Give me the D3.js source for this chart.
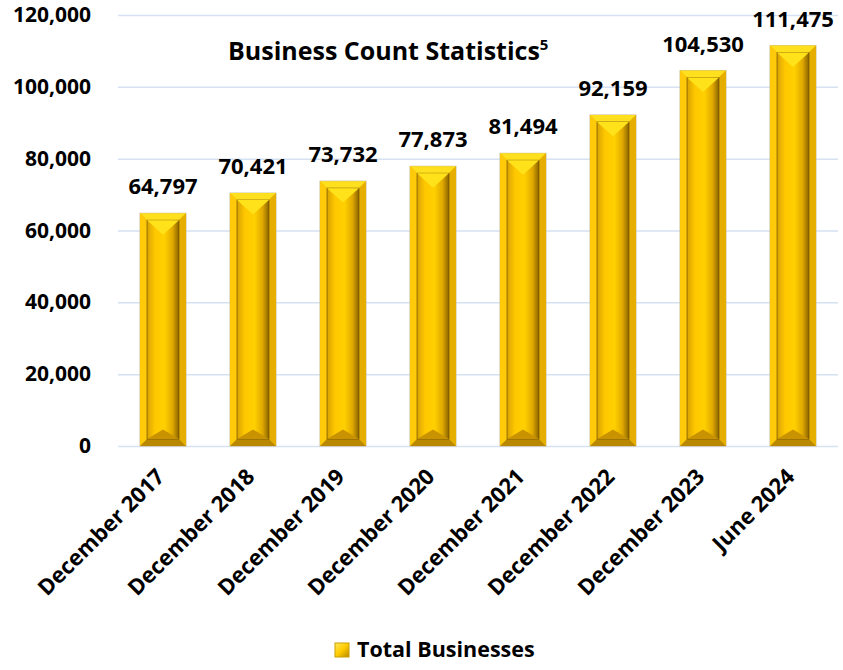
<!DOCTYPE html>
<html><head><meta charset="utf-8">
<script src="https://cdn.jsdelivr.net/npm/d3@7/dist/d3.min.js"></script>
<style>body{margin:0;background:#fff}svg{display:block}text{font-family:"Open Sans",sans-serif;font-weight:bold;fill:#000}</style>
</head><body><svg id="c" width="843" height="670"></svg>
<script>
const categories=["December 2017","December 2018","December 2019","December 2020","December 2021","December 2022","December 2023","June 2024"];
const values=[64797,70421,73732,77873,81494,92159,104530,111475];
const yTicks=[0,20000,40000,60000,80000,100000,120000];
const seriesName="Total Businesses";
const title="Business Count Statistics";

const svg=d3.select("#c");
const pL=118,pR=838,pT=15,pB=446;
const x=d3.scaleBand().domain(categories).range([pL,pR]).paddingInner(0.49).paddingOuter(0.245);
const y=d3.scaleLinear().domain([0,120000]).range([pB,pT]);
const fmt=d3.format(",");

const defs=svg.append("defs");
const g1=defs.append("linearGradient").attr("id","face").attr("x1",0).attr("x2",1).attr("y1",0).attr("y2",0);
[[0,"#D9A200"],[0.25,"#FFC800"],[0.55,"#FFD000"],[0.8,"#E0A800"],[1,"#8A6400"]].forEach(s=>g1.append("stop").attr("offset",s[0]).attr("stop-color",s[1]));
const g2=defs.append("linearGradient").attr("id","leg").attr("x1",0).attr("x2",1).attr("y1",0).attr("y2",1);
[[0,"#FFE860"],[0.5,"#FFCC00"],[1,"#B88A00"]].forEach(s=>g2.append("stop").attr("offset",s[0]).attr("stop-color",s[1]));

svg.append("g").selectAll("line").data(yTicks).join("line")
 .attr("x1",pL).attr("x2",pR).attr("y1",d=>y(d)+0.5).attr("y2",d=>y(d)+0.5)
 .attr("stroke","#D6E1F2").attr("stroke-width",1.5);

svg.append("g").selectAll("text").data(yTicks).join("text")
 .attr("x",91).attr("y",d=>y(d)+7).attr("text-anchor","end")
 .style("font-size","21px").text(d=>fmt(d));

const bars=svg.append("g").selectAll("g").data(values).join("g");
bars.each(function(v,i){
  const g=d3.select(this);
  const x0=x(categories[i]),w=x.bandwidth(),y0=y(v),h=pB-y0,b=7;
  const x1=x0+w,y1=y0+h;
  g.append("rect").attr("x",x0).attr("y",y0).attr("width",w).attr("height",h).attr("fill","#F2BC00").attr("stroke","#C9B98A").attr("stroke-width",1);
  const poly=(pts,fill)=>g.append("polygon").attr("points",pts.map(p=>p.join(",")).join(" ")).attr("fill",fill);
  poly([[x0,y0],[x1,y0],[x1-b,y0+b],[x0+b,y0+b]],"#FFE01E");
  poly([[x0,y0],[x0+b,y0+b],[x0+b,y1-b],[x0,y1]],"#FFCA0A");
  poly([[x1,y0],[x1,y1],[x1-b,y1-b],[x1-b,y0+b]],"#E6AE00");
  poly([[x0,y1],[x1,y1],[x1-b,y1-b],[x0+b,y1-b]],"#B98800");
  const ix0=x0+b,ix1=x1-b,iy0=y0+b,iy1=y1-b,iw=ix1-ix0;
  g.append("rect").attr("x",ix0).attr("y",iy0).attr("width",iw).attr("height",iy1-iy0).attr("fill","url(#face)");
  g.append("rect").attr("x",ix0).attr("y",iy0).attr("width",iw).attr("height",iy1-iy0).attr("fill","none").attr("stroke","#6E5000").attr("stroke-width",1).attr("stroke-opacity",0.7);
  poly([[ix0,iy0],[ix1,iy0],[(ix0+ix1)/2,iy0+iw*0.45]],"#FFE21A");
  poly([[ix0,iy1],[ix1,iy1],[(ix0+ix1)/2,iy1-iw*0.3]],"#C89200");
  g.append("text").attr("x",x0+w/2).attr("y",y0-19).attr("text-anchor","middle").style("font-size","22px").text(fmt(v));
});

svg.append("g").selectAll("text").data(categories).join("text")
 .attr("transform",d=>`translate(${x(d)+x.bandwidth()/2+3},${pB+32}) rotate(-45)`)
 .attr("text-anchor","end").style("font-size","22px").text(d=>d);

const t=svg.append("text").attr("x",228).attr("y",60).style("font-size","25px");
t.append("tspan").text(title);
t.append("tspan").attr("dy",-10).style("font-size","15px").text("5");

svg.append("rect").attr("x",335).attr("y",643).attr("width",14).attr("height",14).attr("fill","url(#leg)").attr("stroke","#C9A000");
svg.append("text").attr("x",357).attr("y",657).style("font-size","21.5px").text(seriesName);
</script></body></html>
